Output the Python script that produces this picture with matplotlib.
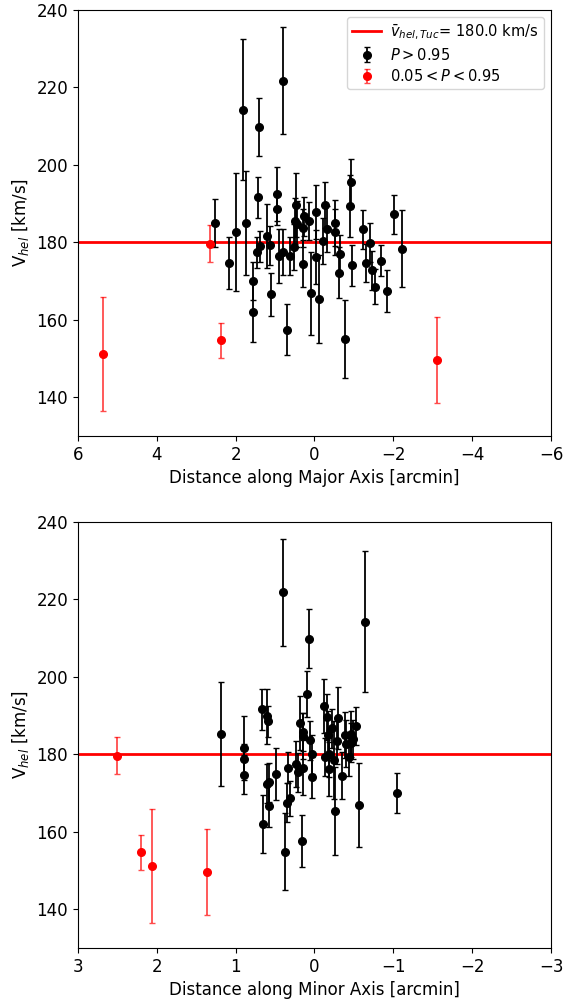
#!/usr/bin/env python3
"""
Heliocentric velocities of member stars against position along the
major and minor axes.
"""

import numpy as np
import matplotlib.pyplot as plt

v_sys = 180.0

# major axis panel, P > 0.95 members
maj_x = [1.80, 0.80, 1.41, 1.43, 0.95, 0.96, 2.51, 1.98, 1.73, 0.46,
         0.49, 0.45, 0.27, 0.28, 0.13, -0.05, -0.27, -0.33, -0.52, -0.53,
         -0.90, -0.94, -1.23, -1.40, -2.02, -2.23, 2.17, 1.57, 1.55, 1.46,
         1.39, 1.21, 1.13, 1.10, 0.90, 0.80, 0.69, 0.62, 0.51, 0.30,
         0.08, -0.05, -0.11, -0.22, -0.63, -0.65, -0.77, -0.95, -1.31, -1.46,
         -1.54, -1.69, -1.83]
maj_v = [214.2, 221.7, 209.8, 191.6, 192.4, 188.5, 185.0, 182.7, 185.1, 189.7,
         185.5, 184.7, 186.7, 183.7, 185.5, 187.9, 189.6, 183.4, 185.0, 182.7,
         189.4, 195.5, 183.4, 179.9, 187.2, 178.4, 174.7, 170.0, 161.9, 177.4,
         179.0, 181.6, 179.2, 166.6, 176.5, 177.5, 157.5, 176.5, 178.8, 174.5,
         166.8, 176.2, 165.4, 180.3, 172.2, 176.9, 155.0, 174.1, 174.7, 172.8,
         168.6, 175.3, 167.4]
maj_err = [18.2, 13.8, 7.6, 5.3, 7.0, 4.0, 6.3, 15.2, 13.4, 8.3,
           6.0, 6.0, 5.0, 5.0, 5.0, 7.0, 6.0, 6.0, 6.0, 6.0,
           8.0, 6.0, 5.0, 5.0, 5.0, 10.0, 6.8, 5.0, 7.5, 4.0,
           4.0, 8.3, 5.0, 5.5, 7.0, 6.0, 6.7, 5.0, 6.0, 6.0,
           10.8, 7.0, 11.4, 6.0, 6.6, 5.0, 10.0, 5.3, 5.0, 5.0,
           4.5, 4.0, 5.5]

# major axis panel, 0.05 < P < 0.95
maj_x_low = [5.37, 2.65, 2.37, -3.11]
v_low = [151.2, 179.7, 154.7, 149.7]
err_low = [14.7, 4.7, 4.5, 11.1]

# minor axis panel, P > 0.95 members
min_x = [0.40, 0.07, -0.64, 0.10, 0.66, 0.60, 0.59, 1.18, 0.89, 0.89,
         0.89, 0.65, 0.60, 0.57, 0.57, 0.49, 0.37, 0.34, 0.35, 0.31,
         0.16, 0.24, 0.21, 0.18, 0.15, 0.14, 0.14, 0.06, 0.03, 0.03,
         -0.12, -0.16, -0.17, -0.13, -0.18, -0.18, -0.22, -0.25, -0.26, -0.29,
         -0.30, -0.35, -0.39, -0.40, -0.44, -0.46, -0.46, -0.49, -0.53, -0.56,
         -1.05]
min_v = [221.9, 209.9, 214.3, 195.6, 191.7, 189.8, 188.6, 185.2, 181.7, 178.8,
         174.8, 162.0, 172.4, 172.8, 166.7, 174.9, 154.9, 176.6, 167.5, 168.7,
         157.7, 177.5, 175.4, 188.1, 185.8, 184.8, 176.6, 183.6, 174.1, 180.0,
         192.5, 189.6, 185.1, 179.3, 176.3, 180.2, 186.7, 178.5, 165.4, 183.5,
         189.5, 174.5, 185.0, 182.8, 179.3, 185.3, 183.0, 183.9, 187.3, 166.9,
         170.1]
min_err = [13.8, 7.6, 18.2, 6.0, 5.3, 7.0, 4.0, 13.4, 8.3, 4.0,
           5.0, 7.5, 5.0, 5.0, 5.5, 6.8, 10.0, 4.0, 5.0, 4.5,
           6.7, 6.0, 5.0, 7.0, 5.0, 6.0, 7.0, 5.0, 5.3, 5.0,
           7.0, 6.0, 6.0, 5.0, 7.0, 6.0, 5.0, 10.0, 11.4, 6.0,
           8.0, 6.0, 6.0, 6.0, 5.0, 6.0, 5.0, 5.0, 5.0, 10.8,
           5.2]

# minor axis panel, 0.05 < P < 0.95
min_x_low = [2.06, 2.50, 2.20, 1.36]

plt.rcParams['font.size'] = 12

fig = plt.figure(figsize=(5.64, 10), dpi=100)
ax1 = fig.add_axes([0.138, 0.564, 0.839, 0.426])
ax2 = fig.add_axes([0.138, 0.052, 0.839, 0.426])

panels = [
    (ax1, maj_x, maj_v, maj_err, maj_x_low, (6, -6), 'Distance along Major Axis [arcmin]'),
    (ax2, min_x, min_v, min_err, min_x_low, (3, -3), 'Distance along Minor Axis [arcmin]'),
]

for ax, x, v, err, x_low, xlim, xlabel in panels:
    ax.axhline(v_sys, color='red', linewidth=2,
               label=r'$\bar{v}_{hel,Tuc}$= %.1f km/s' % v_sys)
    ax.errorbar(x, v, yerr=err, fmt='o', color='k', ms=5.5,
                ecolor='k', elinewidth=1.3, capsize=2, label=r'$P>0.95$')
    ax.errorbar(x_low, v_low, yerr=err_low, fmt='o', color='red', ms=5.5,
                ecolor=(1, 0, 0, 0.7), elinewidth=1.3, capsize=2,
                label=r'$0.05<P<0.95$')
    ax.set_xlim(*xlim)
    ax.set_ylim(130, 240)
    ax.set_yticks(np.arange(140, 241, 20))
    ax.set_xlabel(xlabel)
    ax.set_ylabel(r'V$_{hel}$ [km/s]')

ax1.legend(loc='upper right', fontsize=10.5, labelspacing=0.35,
           borderpad=0.35, handletextpad=0.6)

plt.savefig('out.png', dpi=100)
